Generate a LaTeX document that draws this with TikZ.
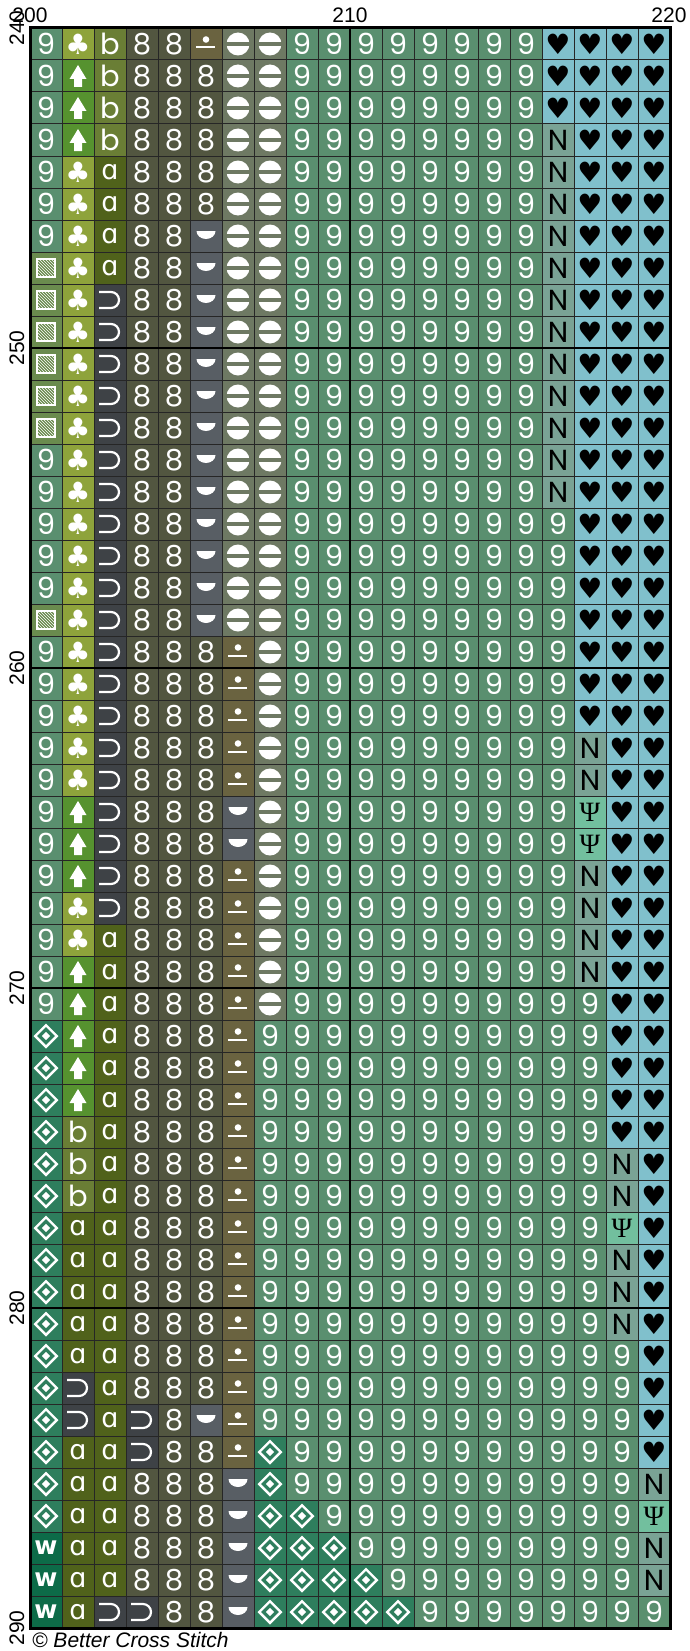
\documentclass[tikz,border=0pt]{standalone}
\usepackage{fontspec}
\setmainfont{Liberation Sans}
\newfontfamily\chartfont{Poppins}
\newfontfamily\symfont{DejaVu Sans}
\newfontfamily\psifont{Liberation Serif}
\usetikzlibrary{patterns}

\definecolor{cnine}{HTML}{5A8F6F}
\definecolor{cclub}{HTML}{8EA33B}
\definecolor{carrow}{HTML}{56922F}
\definecolor{cbee}{HTML}{6A7E35}
\definecolor{cay}{HTML}{50621B}
\definecolor{ceight}{HTML}{525640}
\definecolor{cdotdash}{HTML}{6A6340}
\definecolor{cbar}{HTML}{6E7963}
\definecolor{ccup}{HTML}{3E4246}
\definecolor{cbowl}{HTML}{585E64}
\definecolor{chatch}{HTML}{6A8B4E}
\definecolor{cheart}{HTML}{80C0CC}
\definecolor{cen}{HTML}{7AA395}
\definecolor{cpsi}{HTML}{72BF9E}
\definecolor{cdiam}{HTML}{2E7E5D}
\definecolor{cdub}{HTML}{0D6B48}

\tikzset{
  dg/.style={inner sep=0pt,text=white,font=\chartfont\fontsize{29}{29}\selectfont},
  glyph/.style={inner sep=0pt,font=\symfont\fontsize{28}{28}\selectfont},
  gridln/.style={line width=1pt,black!85},
  majorln/.style={line width=2.4pt,black},
  lbl/.style={inner sep=0pt,font=\fontsize{21}{21}\selectfont},
}

% one chart cell per letter, centred on (\cx,\cy)
\newcount\colno
\newcommand\defcell[2]{\expandafter\def\csname cell-#1\endcsname{#2}}
\newcommand\cellbg[1]{\fill[#1] (\cx-16,\cy-16) rectangle ++(32,32);}
\newcommand\chartrow[1]{\colno=0 \chartcell#1\relax}
\def\chartcell#1{\ifx#1\relax\else
  \edef\cx{\the\numexpr46+32*\colno\relax}%
  \csname cell-#1\endcsname
  \advance\colno by 1
  \expandafter\chartcell\fi}

\defcell{n}{\cellbg{cnine}\node[dg] at (\cx,\cy) {9};}
\defcell{e}{\cellbg{ceight}\node[dg] at (\cx,\cy) {8};}
\defcell{a}{\cellbg{cay}\node[glyph,text=white,font=\symfont\fontsize{27}{27}\selectfont] at (\cx,\cy) {ɑ};}
\defcell{b}{\cellbg{cbee}\node[dg] at (\cx,\cy) {b};}
\defcell{c}{\cellbg{cclub}\node[glyph,text=white] at (\cx,\cy) {♣};}
\defcell{H}{\cellbg{cheart}\node[glyph,text=black] at (\cx,\cy) {♥};}
\defcell{N}{\cellbg{cen}\node[dg,text=black] at (\cx,\cy) {N};}
\defcell{P}{\cellbg{cpsi}\node[inner sep=0pt,font=\psifont\fontsize{28}{28}\selectfont] at (\cx,\cy) {Ψ};}
\defcell{s}{\cellbg{ccup}\draw[white,line width=2.2pt] (\cx-11,\cy-8) -- (\cx+1,\cy-8)
  arc[start angle=-90,end angle=90,radius=8] -- (\cx-11,\cy+8);}
\defcell{W}{\cellbg{cdub}\node[inner sep=0pt,text=white,font=\symfont\bfseries\fontsize{25}{25}\selectfont] at (\cx,\cy) {w};}
\defcell{u}{\cellbg{carrow}\fill[white] (\cx,\cy-11) -- (\cx+8.5,\cy+3) -- (\cx+4,\cy+3)
  -- (\cx+4,\cy+11) -- (\cx-4,\cy+11) -- (\cx-4,\cy+3) -- (\cx-8.5,\cy+3) -- cycle;}
\defcell{o}{\cellbg{cbar}\fill[white] (\cx,\cy) circle (11.5);
  \fill[cbar] (\cx-12,\cy-1.8) rectangle (\cx+12,\cy+1.8);}
\defcell{h}{\cellbg{cbowl}\fill[white] (\cx-9.5,\cy-5)
  arc[start angle=180,end angle=0,x radius=9.5,y radius=8] -- cycle;}
\defcell{d}{\cellbg{cdotdash}\fill[white] (\cx,\cy-4.5) circle (3.3);
  \draw[white,line width=2pt] (\cx-10,\cy+3.5) -- (\cx+9,\cy+3.5);}
\defcell{D}{\cellbg{cdiam}\draw[white,line width=2.4pt] (\cx,\cy-10.8) -- (\cx+10.8,\cy)
  -- (\cx,\cy+10.8) -- (\cx-10.8,\cy) -- cycle;
  \fill[white] (\cx,\cy-4.2) -- (\cx+4.2,\cy) -- (\cx,\cy+4.2) -- (\cx-4.2,\cy) -- cycle;}
\defcell{q}{\cellbg{chatch}\fill[pattern=north west lines,pattern color=white]
  (\cx-9,\cy-9) rectangle (\cx+9,\cy+9);
  \draw[white,line width=1.2pt] (\cx-9,\cy-9) rectangle (\cx+9,\cy+9);}

\begin{document}
\begin{tikzpicture}[x=1pt,y=-1pt]
\useasboundingbox (0,0) rectangle (689,1651);

% rows 240 to 289
\foreach \rowstr [count=\r from 0] in {
  ncbeedoonnnnnnnnHHHH, nubeeeoonnnnnnnnHHHH, nubeeeoonnnnnnnnHHHH,
  nubeeeoonnnnnnnnNHHH, ncaeeeoonnnnnnnnNHHH, ncaeeeoonnnnnnnnNHHH,
  ncaeehoonnnnnnnnNHHH, qcaeehoonnnnnnnnNHHH, qcseehoonnnnnnnnNHHH,
  qcseehoonnnnnnnnNHHH, qcseehoonnnnnnnnNHHH, qcseehoonnnnnnnnNHHH,
  qcseehoonnnnnnnnNHHH, ncseehoonnnnnnnnNHHH, ncseehoonnnnnnnnNHHH,
  ncseehoonnnnnnnnnHHH, ncseehoonnnnnnnnnHHH, ncseehoonnnnnnnnnHHH,
  qcseehoonnnnnnnnnHHH, ncseeedonnnnnnnnnHHH, ncseeedonnnnnnnnnHHH,
  ncseeedonnnnnnnnnHHH, ncseeedonnnnnnnnnNHH, ncseeedonnnnnnnnnNHH,
  nuseeehonnnnnnnnnPHH, nuseeehonnnnnnnnnPHH, nuseeedonnnnnnnnnNHH,
  ncseeedonnnnnnnnnNHH, ncaeeedonnnnnnnnnNHH, nuaeeedonnnnnnnnnNHH,
  nuaeeedonnnnnnnnnnHH, DuaeeednnnnnnnnnnnHH, DuaeeednnnnnnnnnnnHH,
  DuaeeednnnnnnnnnnnHH, DbaeeednnnnnnnnnnnHH, DbaeeednnnnnnnnnnnNH,
  DbaeeednnnnnnnnnnnNH, DaaeeednnnnnnnnnnnPH, DaaeeednnnnnnnnnnnNH,
  DaaeeednnnnnnnnnnnNH, DaaeeednnnnnnnnnnnNH, DaaeeednnnnnnnnnnnnH,
  DsaeeednnnnnnnnnnnnH, DsasehdnnnnnnnnnnnnH, DaaseedDnnnnnnnnnnnH,
  DaaeeehDnnnnnnnnnnnN, DaaeeehDDnnnnnnnnnnP, WaaeeehDDDnnnnnnnnnN,
  WaaeeehDDDDnnnnnnnnN, WasseehDDDDDnnnnnnnn}{
  \pgfmathtruncatemacro\cy{44+32*\r}
  \expandafter\chartrow\expandafter{\rowstr}
}

% grid
\foreach \k in {0,...,20} \draw[gridln] (30+32*\k,28) -- (30+32*\k,1628);
\foreach \k in {0,...,50} \draw[gridln] (30,28+32*\k) -- (670,28+32*\k);
\foreach \k in {0,1,2} \draw[majorln] (30+320*\k,28) -- (30+320*\k,1628);
\foreach \k in {0,...,5} \draw[majorln] (30,28+320*\k) -- (670,28+320*\k);
\draw[line width=3pt] (30,28) rectangle (670,1628);

% scale labels
\node[lbl] (col200) at (30,15.5) {200};
\node[lbl] (col210) at (350,15.5) {210};
\node[lbl] (col220) at (669,15.5) {220};
\foreach \v [count=\k from 0] in {240,250,260,270,280,290}
  \node[lbl,rotate=90] (row\v) at (17,28+320*\k) {\v};

\node[anchor=base west,inner sep=0pt,font=\itshape\fontsize{21}{21}\selectfont]
  (credit) at (32,1647) {© Better Cross Stitch};
\end{tikzpicture}
\end{document}
